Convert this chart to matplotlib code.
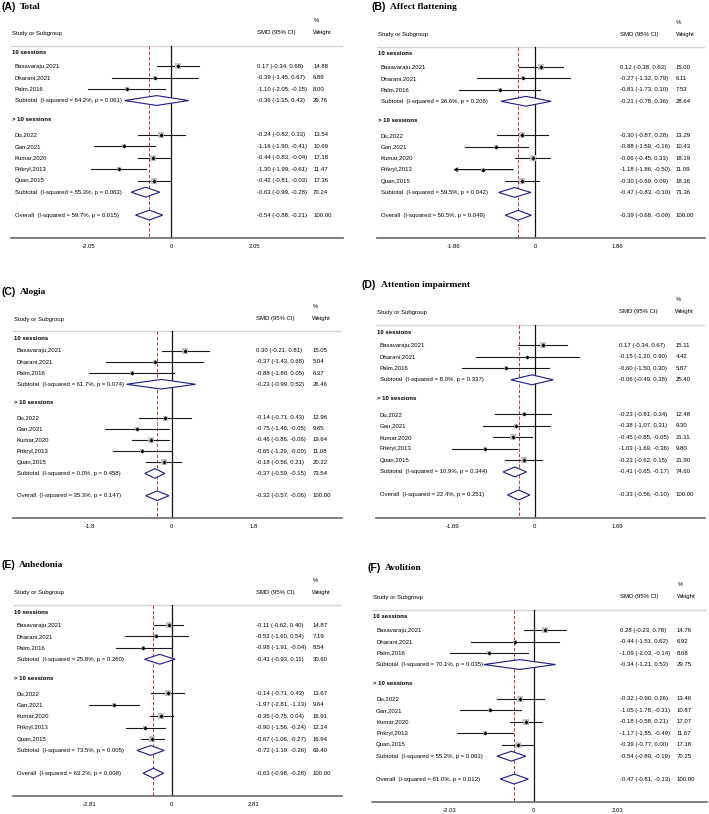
import numpy as np
import matplotlib.pyplot as plt
from matplotlib.patches import Polygon

plt.rcParams['font.family'] = ['Liberation Sans', 'DejaVu Sans']
plt.rcParams['axes.unicode_minus'] = False

studies = ["Basavaraju,2021", "Dharani,2021", "Palm,2016",
           "Du,2022", "Gan,2021", "Kumar,2020", "Prikryl,2013", "Quan,2015"]
groups = ["10 sessions", "> 10 sessions"]

# (A) Total
total_smd = [0.17, -0.39, -1.10, -0.24, -1.16, -0.44, -1.30, -0.42]
total_lo = [-0.34, -1.45, -2.05, -0.82, -1.90, -0.83, -1.99, -0.81]
total_hi = [0.68, 0.67, -0.15, 0.33, -0.41, -0.04, -0.61, -0.03]
total_wt = [14.88, 6.89, 8.00, 13.54, 10.69, 17.18, 11.47, 17.36]
# est, lo, hi, weight, I-squared, p  (subtotal 1, subtotal 2, overall)
total_pool = [[-0.36, -1.15, 0.43, 29.76, 64.2, 0.061],
              [-0.63, -0.99, -0.28, 70.24, 55.3, 0.063],
              [-0.54, -0.88, -0.21, 100.00, 59.7, 0.015]]

# (B) Affect flattening
affect_smd = [0.12, -0.27, -0.81, -0.30, -0.88, -0.06, -1.18, -0.30]
affect_lo = [-0.38, -1.32, -1.73, -0.87, -1.59, -0.45, -1.864, -0.69]
affect_hi = [0.63, 0.79, 0.10, 0.28, -0.16, 0.33, -0.50, 0.09]
affect_wt = [15.00, 6.11, 7.53, 13.29, 10.43, 18.19, 11.09, 18.36]
affect_pool = [[-0.21, -0.78, 0.36, 28.64, 36.6, 0.206],
               [-0.47, -0.83, -0.10, 71.36, 59.5, 0.042],
               [-0.39, -0.68, -0.09, 100.00, 50.5, 0.049]]

# (C) Alogia
alogia_smd = [0.30, -0.37, -0.88, -0.14, -0.75, -0.46, -0.65, -0.18]
alogia_lo = [-0.21, -1.43, -1.80, -0.71, -1.46, -0.86, -1.29, -0.56]
alogia_hi = [0.81, 0.68, 0.05, 0.43, -0.05, -0.06, -0.0, 0.21]
alogia_wt = [15.05, 5.04, 6.37, 12.96, 9.65, 19.64, 11.08, 20.22]
alogia_pool = [[-0.23, -0.99, 0.52, 26.46, 61.7, 0.074],
               [-0.37, -0.59, -0.15, 73.54, 0.0, 0.458],
               [-0.32, -0.57, -0.06, 100.00, 35.3, 0.147]]

# (D) Attention impairment
attn_smd = [0.17, -0.15, -0.60, -0.23, -0.38, -0.45, -1.03, -0.23]
attn_lo = [-0.34, -1.20, -1.50, -0.81, -1.07, -0.85, -1.69, -0.62]
attn_hi = [0.67, 0.90, 0.30, 0.34, 0.31, -0.05, -0.36, 0.15]
attn_wt = [15.11, 4.42, 5.87, 12.48, 9.30, 21.11, 9.80, 21.90]
attn_pool = [[-0.06, -0.49, 0.38, 25.40, 8.0, 0.337],
             [-0.41, -0.65, -0.17, 74.60, 10.9, 0.344],
             [-0.33, -0.56, -0.10, 100.00, 22.4, 0.251]]

# (E) Anhedonia
anhed_smd = [-0.11, -0.53, -0.98, -0.14, -1.97, -0.35, -0.90, -0.67]
anhed_lo = [-0.62, -1.60, -1.91, -0.71, -2.81, -0.75, -1.56, -1.06]
anhed_hi = [0.40, 0.54, -0.04, 0.43, -1.13, 0.04, -0.24, -0.27]
anhed_wt = [14.87, 7.19, 8.54, 13.67, 9.64, 16.91, 12.24, 16.94]
anhed_pool = [[-0.41, -0.93, 0.11, 30.60, 25.8, 0.260],
              [-0.72, -1.19, -0.26, 69.40, 73.5, 0.005],
              [-0.63, -0.98, -0.28, 100.00, 63.2, 0.008]]

# (F) Avolition
avol_smd = [0.28, -0.44, -1.09, -0.32, -1.05, -0.18, -1.17, -0.39]
avol_lo = [-0.23, -1.51, -2.03, -0.90, -1.78, -0.58, -1.85, -0.77]
avol_hi = [0.78, 0.62, -0.14, 0.26, -0.31, 0.21, -0.49, 0.00]
avol_wt = [14.76, 6.92, 8.08, 13.46, 10.87, 17.07, 11.67, 17.18]
avol_pool = [[-0.34, -1.21, 0.53, 29.75, 70.1, 0.035],
              [-0.54, -0.89, -0.19, 70.25, 55.2, 0.063],
              [-0.47, -0.81, -0.13, 100.00, 61.0, 0.012]]

panels = [
    ("(A)", "Total", total_smd, total_lo, total_hi, total_wt, total_pool, 2.05),
    ("(B)", "Affect flattening", affect_smd, affect_lo, affect_hi, affect_wt, affect_pool, 1.86),
    ("(C)", "Alogia", alogia_smd, alogia_lo, alogia_hi, alogia_wt, alogia_pool, 1.8),
    ("(D)", "Attention impairment", attn_smd, attn_lo, attn_hi, attn_wt, attn_pool, 1.69),
    ("(E)", "Anhedonia", anhed_smd, anhed_lo, anhed_hi, anhed_wt, anhed_pool, 2.81),
    ("(F)", "Avolition", avol_smd, avol_lo, avol_hi, avol_wt, avol_pool, 2.03),
]

# pixel layout: left, right, first row y, axis y, title x, title y
boxes = [
    (11, 343, 53, 238, 1, 7),
    (377, 705, 54, 238, 371, 7),
    (13, 342, 338, 518, 1, 292),
    (376, 705, 332, 518, 362, 285),
    (13, 342, 612, 796, 1, 565),
    (372, 707, 617, 802, 367, 568),
]

W, H = 709, 814
fig = plt.figure(figsize=(W / 100, H / 100), dpi=100)

study_rows = [1.15, 2.15, 3.15, 7.15, 8.15, 9.15, 10.15, 11.15]
group_rows = [0, 5.8]
pool_rows = [4.15, 12.15, 14.15]
Y_TOP, Y_BOT = -3.4, 16.15
FS = 4.3
NAVY = '#1c1c8c'

for (tag, name, smd, lo, hi, wt, pool, T), box in zip(panels, boxes):
    left, right, row0, axis_y, tx, ty = box
    s = (axis_y - row0) / Y_BOT
    top = row0 + Y_TOP * s
    ax = fig.add_axes([left / W, 1 - axis_y / H, (right - left) / W, (axis_y - top) / H])
    ax.set_xlim(-1.93 * T, 2.07 * T)
    ax.set_ylim(Y_BOT, Y_TOP)
    for sp in ['top', 'left', 'right']:
        ax.spines[sp].set_visible(False)
    ax.spines['bottom'].set_color('#6a6a6a')
    ax.spines['bottom'].set_linewidth(1.2)
    ax.set_yticks([])
    ax.set_xticks([-T, 0, T])
    ax.set_xticklabels([f"{-T:g}", "0", f"{T:g}"], fontsize=FS)
    ax.tick_params(axis='x', length=0, pad=4.5)
    tr = ax.get_yaxis_transform()

    # headers
    ax.text(0.004, -1.7, "Study or Subgroup", transform=tr, fontsize=FS, va='center')
    ax.text(0.74, -1.75, "SMD (95% CI)", transform=tr, fontsize=FS, va='center')
    ax.text(0.912, -2.8, "%", transform=tr, fontsize=FS, va='center')
    ax.text(0.91, -1.75, "Weight", transform=tr, fontsize=FS, va='center')
    ax.axhline(-0.6, color='#d4d4d4', lw=1.0)

    ax.plot([0, 0], [-0.6, Y_BOT], color='#111111', lw=0.9)
    ax.plot([pool[2][0], pool[2][0]], [-0.6, Y_BOT], color='#cc3333', lw=0.7,
            ls=(0, (3.5, 2)))

    for g, gy in zip(groups, group_rows):
        ax.text(0.004, gy, g, transform=tr, fontsize=FS, va='center', fontweight='bold')

    for i, y in enumerate(study_rows):
        if lo[i] < -T:
            ax.annotate("", xy=(-T, y), xytext=(hi[i], y),
                        arrowprops=dict(arrowstyle='->', lw=0.8, color='black',
                                        shrinkA=0, shrinkB=0, mutation_scale=6))
        else:
            ax.plot([lo[i], hi[i]], [y, y], color='#1a1a1a', lw=0.8)
        ax.scatter(smd[i], y, marker='s', s=1.0 * wt[i], color='#c4c4c4', lw=0, zorder=3)
        ax.scatter(smd[i], y, marker='D', s=4.5, color='black', lw=0, zorder=4)
        ax.text(0.012, y, studies[i], transform=tr, fontsize=FS, va='center')
        ax.text(0.74, y, f"{smd[i]:.2f} ({lo[i]:.2f}, {hi[i]:.2f})", transform=tr,
                fontsize=FS, va='center')
        ax.text(0.91, y, f"{wt[i]:.2f}", transform=tr, fontsize=FS, va='center')

    labels = ["Subtotal", "Subtotal", "Overall"]
    for (est, plo, phi, pw, i2, p), y, lab in zip(pool, pool_rows, labels):
        h = 0.43
        ax.add_patch(Polygon([(plo, y), (est, y - h), (phi, y), (est, y + h)],
                             closed=True, facecolor='white', edgecolor=NAVY, lw=0.8, zorder=3))
        ax.text(0.012, y, f"{lab}  (I-squared = {i2:.1f}%, p = {p:.3f})", transform=tr,
                fontsize=FS, va='center')
        ax.text(0.74, y, f"{est:.2f} ({plo:.2f}, {phi:.2f})", transform=tr,
                fontsize=FS, va='center')
        ax.text(0.91, y, f"{pw:.2f}", transform=tr, fontsize=FS, va='center')
    ax.text(0.014, 13.15, ".", transform=tr, fontsize=FS, va='center', color='#999999')

    t = fig.text(tx / W, 1 - ty / H, tag, fontsize=7.6, fontweight='bold', va='center')
    ax.annotate(name, xy=(1, 0.5), xycoords=t, xytext=(3, 0), textcoords='offset points',
                va='center', fontsize=6.8, fontweight='bold',
                family=['Liberation Serif', 'DejaVu Serif'], annotation_clip=False)

fig.savefig("out.png", dpi=100)
